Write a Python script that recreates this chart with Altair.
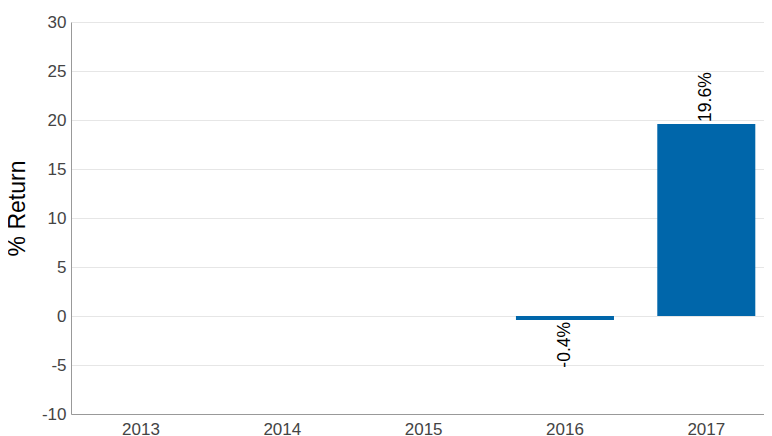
import altair as alt
import pandas as pd

years = ["2013", "2014", "2015", "2016", "2017"]
returns = [None, None, None, -0.4, 19.6]
labels = ["", "", "", "-0.4%", "19.6%"]

df = pd.DataFrame({"year": years, "ret": returns, "label": labels})

xscale = alt.Scale(paddingInner=0.3064, paddingOuter=0.105, align=0.707)

x = alt.X("year:N", sort=years, title=None, scale=xscale,
          axis=alt.Axis(labelAngle=0, labelFontSize=17, labelColor="#444444",
                        labelFont="Liberation Sans", labelPadding=7, ticks=False,
                        domainColor="#999999", grid=False))
y = alt.Y("ret:Q", title="% Return",
          scale=alt.Scale(domain=[-10, 30], nice=False, zero=True),
          axis=alt.Axis(values=list(range(-10, 31, 5)), labelFontSize=17,
                        labelExpr="toString(datum.value)",
                        labelColor="#444444", labelFont="Liberation Sans",
                        labelPadding=5, ticks=False, domainColor="#999999",
                        gridColor="#e6e6e6", titleFontSize=23,
                        titleFont="Liberation Sans", titleFontWeight="normal",
                        titleColor="#000000", titleX=-54, titleY=186,
                        titleBaseline="middle", titleAlign="center"))

base = alt.Chart(df)
bars = base.mark_bar(color="#0066AA").encode(x=x, y=y)

pos_text = base.transform_filter("datum.ret > 0").mark_text(
    angle=270, align="left", baseline="middle", dx=2, fontSize=17.5,
    font="Liberation Sans", color="#000000"
).encode(x=alt.X("year:N", sort=years), y="ret:Q", text="label:N")

neg_text = base.transform_filter("datum.ret < 0").mark_text(
    angle=270, align="right", baseline="middle", dx=-2, fontSize=17.5,
    font="Liberation Sans", color="#000000"
).encode(x=alt.X("year:N", sort=years), y="ret:Q", text="label:N")

chart = (bars + pos_text + neg_text).properties(
    width=693, height=392,
    autosize=alt.AutoSizeParams(type="none"),
    padding={"left": 63, "top": 14, "right": 0, "bottom": 22},
).configure_view(stroke=None)

chart.save("out.html", embed_options={"renderer": "svg", "actions": False})
